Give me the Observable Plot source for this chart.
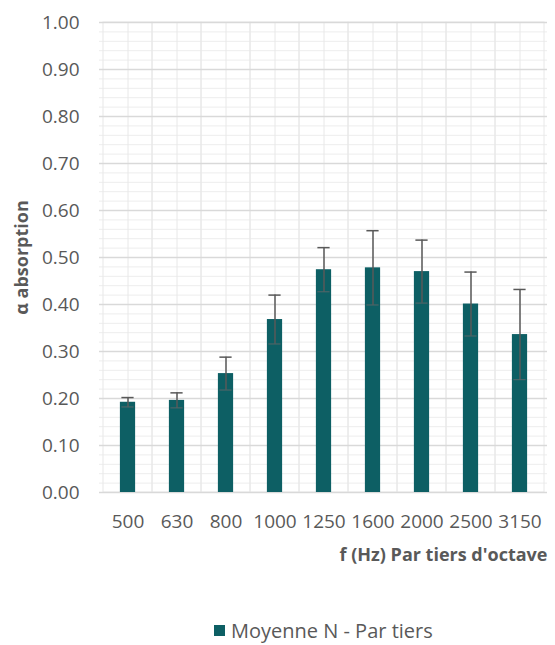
<!DOCTYPE html>
<html><head><meta charset="utf-8">
<script src="https://cdn.jsdelivr.net/npm/d3@7"></script>
<script src="https://cdn.jsdelivr.net/npm/@observablehq/plot@0.6"></script>
<style>
body{margin:0;background:#fff;font-family:"Open Sans",sans-serif;}
#chart{position:relative;width:555px;height:645px;overflow:hidden;}
.legend{position:absolute;left:214px;top:617px;display:flex;align-items:center;font-size:20px;color:#595959;white-space:nowrap;}
.legend .sw{width:11px;height:11px;background:#0d5f64;margin-right:6px;}
</style></head><body><div id="chart"></div>
<script>
const categories = ["500","630","800","1000","1250","1600","2000","2500","3150"];
const values = [0.192,0.196,0.253,0.368,0.474,0.478,0.470,0.401,0.336];
const errors = [0.010,0.016,0.035,0.052,0.047,0.079,0.067,0.068,0.096];
const yTicks = [0,0.1,0.2,0.3,0.4,0.5,0.6,0.7,0.8,0.9,1.0];
const minorTicks = d3.range(0, 1.0001, 0.02);
const seriesName = "Moyenne N - Par tiers";
const xTitle = "f (Hz) Par tiers d'octave";
const yTitle = "α absorption";

const data = categories.map((c, i) => ({cat: c, v: values[i], lo: values[i] - errors[i], hi: values[i] + errors[i]}));

const W = 555, H = 580, ML = 99, MR = 8, MT = 22, MB = 88;
const step = (W - ML - MR) / categories.length;
const barW = 16, capW = 13;

const chart = Plot.plot({
  width: W, height: H,
  marginLeft: ML, marginRight: MR, marginTop: MT, marginBottom: MB,
  style: {fontFamily: "Open Sans, sans-serif", fontSize: "19px", color: "#595959", background: "white", overflow: "visible"},
  x: {domain: categories, padding: 0, label: null},
  y: {domain: [0, 1], label: null},
  marks: [
    Plot.ruleY(minorTicks, {stroke: "#ededed", strokeWidth: 1}),
    Plot.barY(categories, {x: d => d, y1: 0, y2: 1, fill: "none", stroke: "#e8e8e8", strokeWidth: 1}),
    Plot.gridX(categories, {stroke: "#e8e8e8", strokeOpacity: 1}),
    Plot.ruleY(yTicks, {stroke: "#d9d9d9", strokeWidth: 1.3}),
    Plot.axisY({ticks: yTicks, tickFormat: d3.format(".2f"), tickSize: 0, tickPadding: 20, label: null, fontSize: 19}),
    Plot.axisX({tickSize: 0, tickPadding: 22, label: null, fontSize: 19}),
    Plot.barY(data, {x: "cat", y: "v", fill: "#0d5f64", insetLeft: (step - barW) / 2, insetRight: (step - barW) / 2}),
    Plot.ruleX(data, {x: "cat", y1: "lo", y2: "hi", stroke: "#595959", strokeWidth: 1.5}),
    Plot.tickY(data, {x: "cat", y: "hi", stroke: "#595959", strokeWidth: 1.5, inset: (step - capW) / 2}),
    Plot.tickY(data, {x: "cat", y: "lo", stroke: "#8a6a6a", strokeWidth: 1, strokeOpacity: 0.6, inset: (step - capW) / 2}),
    Plot.text([xTitle], {frameAnchor: "bottom-right", dy: 68, textAnchor: "end", fontWeight: "bold", fontSize: 18, fill: "#595959"}),
    Plot.text([yTitle], {frameAnchor: "left", dx: -77, rotate: -90, textAnchor: "middle", fontWeight: "bold", fontSize: 18, fill: "#595959"})
  ]
});

const root = document.getElementById("chart");
root.appendChild(chart);
const leg = document.createElement("div");
leg.className = "legend";
leg.innerHTML = '<span class="sw"></span><span></span>';
leg.lastChild.textContent = seriesName;
root.appendChild(leg);
</script></body></html>
